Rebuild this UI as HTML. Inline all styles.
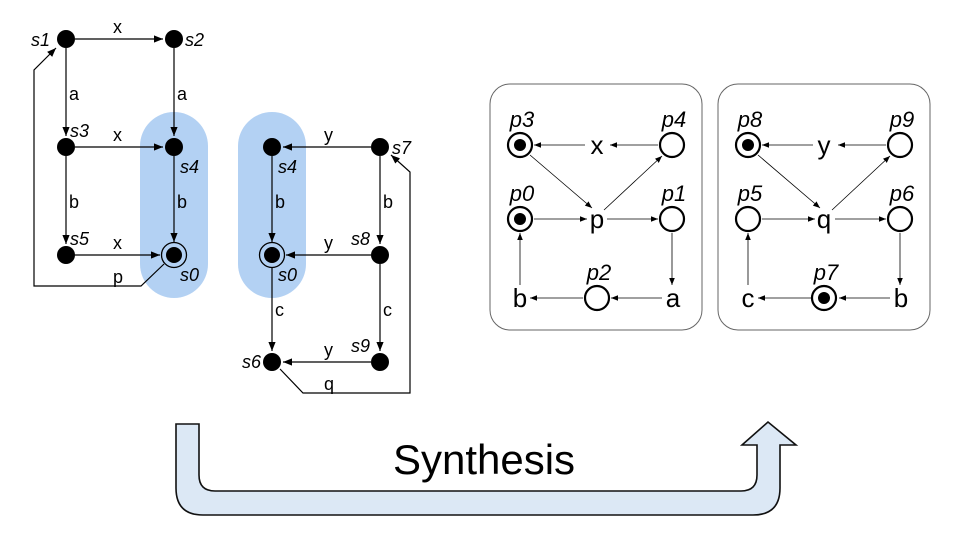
<!DOCTYPE html>
<html><head><meta charset="utf-8"><style>
html,body{margin:0;padding:0;background:#fff;width:960px;height:540px;overflow:hidden}
svg{display:block}
text{font-family:"Liberation Sans",sans-serif}
</style></head><body>
<svg width="960" height="540" viewBox="0 0 960 540" xmlns="http://www.w3.org/2000/svg">
<defs>
<marker id="ah" viewBox="0 0 10 10" refX="10" refY="5" markerWidth="9" markerHeight="9" markerUnits="userSpaceOnUse" orient="auto"><path d="M0,1 L10,5 L0,9 z" fill="#000"/></marker>
<marker id="as" viewBox="0 0 10 10" refX="10" refY="5" markerWidth="7" markerHeight="7" markerUnits="userSpaceOnUse" orient="auto"><path d="M0,1 L10,5 L0,9 z" fill="#000"/></marker>
</defs>
<rect x="140" y="112" width="68" height="186" rx="34" fill="#b3d1f3"/>
<rect x="238" y="112" width="68" height="186" rx="34" fill="#b3d1f3"/>
<g stroke="#000" stroke-width="1.2" fill="none" marker-end="url(#ah)">
<line x1="75" y1="39" x2="163" y2="39"/>
<line x1="66" y1="48" x2="66" y2="136"/>
<line x1="174" y1="48" x2="174" y2="136"/>
<line x1="75" y1="147" x2="163" y2="147"/>
<line x1="66" y1="156" x2="66" y2="244"/>
<line x1="174" y1="156" x2="174" y2="242"/>
<line x1="75" y1="255" x2="160" y2="255"/>
<polyline points="164,264 141,286 34,286 34,70 56,48"/>
<line x1="371" y1="147" x2="283" y2="147"/>
<line x1="272" y1="156" x2="272" y2="242"/>
<line x1="371" y1="255" x2="286" y2="255"/>
<line x1="380" y1="156" x2="380" y2="244"/>
<line x1="380" y1="264" x2="380" y2="351"/>
<line x1="272" y1="268" x2="272" y2="351"/>
<line x1="371" y1="362" x2="283" y2="362"/>
<polyline points="280,369 303,393 410,393 410,172 391,155"/>
</g>
<g fill="#000">
<circle cx="66" cy="39" r="9"/><circle cx="174" cy="39" r="9"/>
<circle cx="66" cy="147" r="9"/><circle cx="174" cy="147" r="9"/>
<circle cx="66" cy="255" r="9"/><circle cx="174" cy="255" r="8"/>
<circle cx="272" cy="147" r="9"/><circle cx="380" cy="147" r="9"/>
<circle cx="272" cy="255" r="8"/><circle cx="380" cy="255" r="9"/>
<circle cx="380" cy="362" r="9"/><circle cx="272" cy="362" r="9"/>
</g>
<circle cx="174" cy="255" r="12.5" fill="none" stroke="#000" stroke-width="1.3"/>
<circle cx="272" cy="255" r="12.5" fill="none" stroke="#000" stroke-width="1.3"/>
<g font-size="18" font-style="italic">
<text x="31" y="46">s1</text><text x="185" y="46">s2</text>
<text x="70" y="137">s3</text><text x="180" y="173">s4</text>
<text x="70" y="245">s5</text><text x="180" y="281">s0</text>
<text x="278" y="173">s4</text><text x="278" y="281">s0</text>
<text x="392" y="154">s7</text><text x="351" y="245">s8</text>
<text x="351" y="352">s9</text><text x="242" y="368">s6</text>
</g>
<g font-size="18">
<text x="113" y="33">x</text><text x="69" y="100">a</text><text x="177" y="100">a</text>
<text x="113" y="141">x</text><text x="69" y="208">b</text><text x="177" y="208">b</text>
<text x="113" y="249">x</text><text x="113" y="283">p</text>
<text x="324" y="141">y</text><text x="275" y="208">b</text><text x="383" y="208">b</text>
<text x="324" y="249">y</text><text x="275" y="316">c</text><text x="383" y="316">c</text>
<text x="324" y="356">y</text><text x="324" y="390">q</text>
</g>
<rect x="490" y="84" width="212" height="246" rx="20" fill="#fff" stroke="#666" stroke-width="1"/>
<rect x="718" y="84" width="212" height="246" rx="20" fill="#fff" stroke="#666" stroke-width="1"/>
<g stroke="#000" stroke-width="0.8" fill="none" marker-end="url(#as)">
<line x1="658" y1="145" x2="610" y2="145"/>
<line x1="585" y1="145" x2="534" y2="145"/>
<line x1="530" y1="155" x2="592" y2="208"/>
<line x1="604" y1="210" x2="662" y2="156"/>
<line x1="534" y1="219" x2="587" y2="219"/>
<line x1="607" y1="219" x2="658" y2="219"/>
<line x1="672" y1="233" x2="672" y2="285"/>
<line x1="662" y1="298" x2="611" y2="298"/>
<line x1="583" y1="298" x2="530" y2="298"/>
<line x1="520" y1="285" x2="520" y2="233"/>
<line x1="886" y1="145" x2="838" y2="145"/>
<line x1="813" y1="145" x2="762" y2="145"/>
<line x1="758" y1="155" x2="820" y2="208"/>
<line x1="832" y1="210" x2="890" y2="156"/>
<line x1="762" y1="219" x2="815" y2="219"/>
<line x1="835" y1="219" x2="886" y2="219"/>
<line x1="900" y1="233" x2="900" y2="285"/>
<line x1="890" y1="298" x2="839" y2="298"/>
<line x1="811" y1="298" x2="758" y2="298"/>
<line x1="748" y1="285" x2="748" y2="233"/>
</g>
<g fill="#fff" stroke="#000" stroke-width="2.2">
<circle cx="520" cy="145" r="12"/><circle cx="672" cy="145" r="12"/>
<circle cx="520" cy="219" r="12"/><circle cx="672" cy="219" r="12"/>
<circle cx="597" cy="298" r="12"/>
<circle cx="748" cy="145" r="12"/><circle cx="900" cy="145" r="12"/>
<circle cx="748" cy="219" r="12"/><circle cx="900" cy="219" r="12"/>
<circle cx="824" cy="298" r="12"/>
</g>
<g fill="#000"><circle cx="520" cy="145" r="6"/><circle cx="520" cy="219" r="6"/><circle cx="748" cy="145" r="6"/><circle cx="824" cy="298" r="6"/></g>
<g font-size="22" font-style="italic" text-anchor="middle">
<text x="522" y="127">p3</text><text x="674" y="127">p4</text>
<text x="522" y="201">p0</text><text x="674" y="201">p1</text>
<text x="599" y="280">p2</text>
<text x="750" y="127">p8</text><text x="902" y="127">p9</text>
<text x="750" y="201">p5</text><text x="902" y="201">p6</text>
<text x="826" y="280">p7</text>
</g>
<g font-size="26" text-anchor="middle">
<text x="597" y="154">x</text><text x="597" y="228">p</text>
<text x="520" y="307">b</text><text x="673" y="307">a</text>
<text x="824" y="154">y</text><text x="824" y="228">q</text>
<text x="748" y="307">c</text><text x="901" y="307">b</text>
</g>
<path d="M176,424 L199,424 L199,475 Q199,491 215,491 L741,491 Q757,491 757,475 L757,445 L742,445 L768,422 L796,445 L780,445 L780,488 Q780,515 753,515 L203,515 Q176,515 176,488 Z" fill="#dce8f5" stroke="#111" stroke-width="1.6"/>
<text x="484" y="474" font-size="42" text-anchor="middle">Synthesis</text>
</svg>
</body></html>
